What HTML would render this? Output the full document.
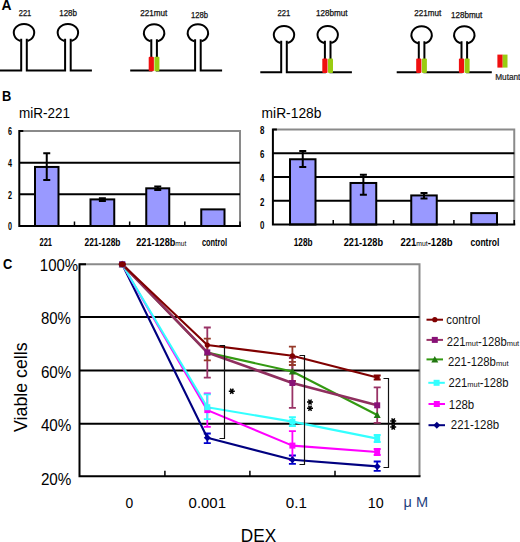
<!DOCTYPE html>
<html><head><meta charset="utf-8"><style>
html,body{margin:0;padding:0;background:#fff;width:520px;height:542px;overflow:hidden}
svg{display:block}
text{font-family:"Liberation Sans",sans-serif}
</style></head><body>
<svg width="520" height="542" viewBox="0 0 520 542">
<text x="1.5" y="10.0" font-size="14.5" font-weight="bold" fill="#000" text-anchor="start" textLength="10" lengthAdjust="spacingAndGlyphs" >A</text>
<path d="M20.50,40.97 A10.2,8.8 0 1 1 27.50,40.97" fill="none" stroke="#000" stroke-width="2.0"/>
<path d="M64.40,40.97 A10.2,8.8 0 1 1 71.40,40.97" fill="none" stroke="#000" stroke-width="2.0"/>
<path d="M0,70.5 L21.20,70.5 L21.20,38.77 M26.80,38.77 L26.80,70.5 L65.10,70.5 L65.10,38.77 M70.70,38.77 L70.70,70.5 L91.9,70.5" fill="none" stroke="#000" stroke-width="2" stroke-linejoin="miter"/>
<text x="18.7" y="15.8" font-size="8.2" font-weight="normal" fill="#111" text-anchor="start" textLength="12.6" lengthAdjust="spacingAndGlyphs" stroke="#111" stroke-width="0.25">221</text>
<text x="59.2" y="15.8" font-size="8.2" font-weight="normal" fill="#111" text-anchor="start" textLength="17.8" lengthAdjust="spacingAndGlyphs" stroke="#111" stroke-width="0.25">128b</text>
<path d="M150.60,41.37 A10.2,8.8 0 1 1 157.60,41.37" fill="none" stroke="#000" stroke-width="2.0"/>
<path d="M194.40,41.37 A10.2,8.8 0 1 1 201.40,41.37" fill="none" stroke="#000" stroke-width="2.0"/>
<path d="M130.2,70.5 L151.30,70.5 L151.30,39.17 M156.90,39.17 L156.90,70.5 L195.10,70.5 L195.10,39.17 M200.70,39.17 L200.70,70.5 L222.1,70.5" fill="none" stroke="#000" stroke-width="2" stroke-linejoin="miter"/>
<rect x="148.70" y="56.70" width="5.2" height="14.6" rx="1" fill="#f01010"/>
<rect x="154.40" y="56.70" width="5.0" height="14.6" rx="1" fill="#99cc11"/>
<text x="140.2" y="15.9" font-size="8.2" font-weight="normal" fill="#111" text-anchor="start" textLength="27.0" lengthAdjust="spacingAndGlyphs" stroke="#111" stroke-width="0.25">221mut</text>
<text x="190.9" y="18.3" font-size="8.2" font-weight="normal" fill="#111" text-anchor="start" textLength="17.0" lengthAdjust="spacingAndGlyphs" stroke="#111" stroke-width="0.25">128b</text>
<path d="M280.50,43.07 A10.2,8.8 0 1 1 287.50,43.07" fill="none" stroke="#000" stroke-width="2.0"/>
<path d="M324.20,43.07 A10.2,8.8 0 1 1 331.20,43.07" fill="none" stroke="#000" stroke-width="2.0"/>
<path d="M260.3,72.3 L281.20,72.3 L281.20,40.87 M286.80,40.87 L286.80,72.3 L324.90,72.3 L324.90,40.87 M330.50,40.87 L330.50,72.3 L351.9,72.3" fill="none" stroke="#000" stroke-width="2" stroke-linejoin="miter"/>
<rect x="322.30" y="58.50" width="5.2" height="14.6" rx="1" fill="#f01010"/>
<rect x="328.00" y="58.50" width="5.0" height="14.6" rx="1" fill="#99cc11"/>
<text x="277.5" y="16.3" font-size="8.2" font-weight="normal" fill="#111" text-anchor="start" textLength="12.8" lengthAdjust="spacingAndGlyphs" stroke="#111" stroke-width="0.25">221</text>
<text x="315.9" y="15.5" font-size="8.2" font-weight="normal" fill="#111" text-anchor="start" textLength="31.5" lengthAdjust="spacingAndGlyphs" stroke="#111" stroke-width="0.25">128bmut</text>
<path d="M418.10,43.37 A10.2,8.8 0 1 1 425.10,43.37" fill="none" stroke="#000" stroke-width="2.0"/>
<path d="M460.80,43.37 A10.2,8.8 0 1 1 467.80,43.37" fill="none" stroke="#000" stroke-width="2.0"/>
<path d="M396.7,72.3 L418.80,72.3 L418.80,41.17 M424.40,41.17 L424.40,72.3 L461.50,72.3 L461.50,41.17 M467.10,41.17 L467.10,72.3 L491.8,72.3" fill="none" stroke="#000" stroke-width="2" stroke-linejoin="miter"/>
<rect x="416.20" y="58.50" width="5.2" height="14.6" rx="1" fill="#f01010"/>
<rect x="421.90" y="58.50" width="5.0" height="14.6" rx="1" fill="#99cc11"/>
<rect x="458.90" y="58.50" width="5.2" height="14.6" rx="1" fill="#f01010"/>
<rect x="464.60" y="58.50" width="5.0" height="14.6" rx="1" fill="#99cc11"/>
<text x="414.2" y="16.1" font-size="8.2" font-weight="normal" fill="#111" text-anchor="start" textLength="27" lengthAdjust="spacingAndGlyphs" stroke="#111" stroke-width="0.25">221mut</text>
<text x="451.0" y="17.7" font-size="8.2" font-weight="normal" fill="#111" text-anchor="start" textLength="31.3" lengthAdjust="spacingAndGlyphs" stroke="#111" stroke-width="0.25">128bmut</text>
<rect x="497.4" y="54.6" width="5.3" height="13" fill="#f01010"/>
<rect x="502.7" y="54.6" width="4.8" height="13" fill="#99cc11"/>
<text x="495.2" y="80.2" font-size="8.2" font-weight="normal" fill="#222" text-anchor="start" textLength="25.2" lengthAdjust="spacingAndGlyphs" stroke="#222" stroke-width="0.2">Mutant</text>
<text x="1.9" y="100.6" font-size="14.5" font-weight="bold" fill="#000" text-anchor="start" textLength="9.3" lengthAdjust="spacingAndGlyphs" >B</text>
<text x="19.0" y="117.8" font-size="13.8" font-weight="normal" fill="#000" text-anchor="start" textLength="51.0" lengthAdjust="spacingAndGlyphs" >miR-221</text>
<text x="261.6" y="117.7" font-size="13.8" font-weight="normal" fill="#000" text-anchor="start" textLength="59.8" lengthAdjust="spacingAndGlyphs" >miR-128b</text>
<path d="M19.3,131 L240,131 L240,226" fill="none" stroke="#8a8a8a" stroke-width="2"/>
<line x1="19.3" y1="194.33" x2="240" y2="194.33" stroke="#000" stroke-width="2"/>
<line x1="19.3" y1="162.67" x2="240" y2="162.67" stroke="#000" stroke-width="2"/>
<rect x="35" y="166.94" width="23.5" height="59.06" fill="#9999ff" stroke="#000" stroke-width="2"/>
<path d="M46.75,153.17 L46.75,180.08 M43.25,153.17 L50.25,153.17 M43.25,180.08 L50.25,180.08" stroke="#000" stroke-width="2" fill="none"/>
<rect x="90.5" y="199.40" width="23.75" height="26.60" fill="#9999ff" stroke="#000" stroke-width="2"/>
<path d="M102.38,198.29 L102.38,200.98 M98.88,198.29 L105.88,198.29 M98.88,200.98 L105.88,200.98" stroke="#000" stroke-width="2" fill="none"/>
<rect x="146.25" y="188.32" width="23.0" height="37.68" fill="#9999ff" stroke="#000" stroke-width="2"/>
<path d="M157.75,186.42 L157.75,189.90 M154.25,186.42 L161.25,186.42 M154.25,189.90 L161.25,189.90" stroke="#000" stroke-width="2" fill="none"/>
<rect x="201.25" y="209.38" width="23.25" height="16.62" fill="#9999ff" stroke="#000" stroke-width="2"/>
<line x1="74.47" y1="221.5" x2="74.47" y2="226" stroke="#000" stroke-width="1.5"/>
<line x1="129.65" y1="221.5" x2="129.65" y2="226" stroke="#000" stroke-width="1.5"/>
<line x1="184.82" y1="221.5" x2="184.82" y2="226" stroke="#000" stroke-width="1.5"/>
<line x1="240.00" y1="221.5" x2="240.00" y2="226" stroke="#000" stroke-width="1.5"/>
<path d="M23.3,131 L19.3,131 L19.3,226 L241,226" fill="none" stroke="#000" stroke-width="2"/>
<path d="M272.9,129.6 L514.25,129.6 L514.25,224.5" fill="none" stroke="#8a8a8a" stroke-width="2"/>
<line x1="272.9" y1="200.78" x2="514.25" y2="200.78" stroke="#000" stroke-width="2"/>
<line x1="272.9" y1="177.05" x2="514.25" y2="177.05" stroke="#000" stroke-width="2"/>
<line x1="272.9" y1="153.32" x2="514.25" y2="153.32" stroke="#000" stroke-width="2"/>
<rect x="290" y="159.26" width="25.5" height="65.24" fill="#9999ff" stroke="#000" stroke-width="2"/>
<path d="M302.75,150.95 L302.75,166.97 M299.25,150.95 L306.25,150.95 M299.25,166.97 L306.25,166.97" stroke="#000" stroke-width="2" fill="none"/>
<rect x="350.5" y="182.98" width="25.75" height="41.52" fill="#9999ff" stroke="#000" stroke-width="2"/>
<path d="M363.38,174.68 L363.38,194.84 M359.88,174.68 L366.88,174.68 M359.88,194.84 L366.88,194.84" stroke="#000" stroke-width="2" fill="none"/>
<rect x="411.25" y="195.44" width="25.5" height="29.06" fill="#9999ff" stroke="#000" stroke-width="2"/>
<path d="M424.00,193.06 L424.00,198.40 M420.50,193.06 L427.50,193.06 M420.50,198.40 L427.50,198.40" stroke="#000" stroke-width="2" fill="none"/>
<rect x="471.25" y="213.11" width="25.75" height="11.39" fill="#9999ff" stroke="#000" stroke-width="2"/>
<line x1="333.24" y1="220.0" x2="333.24" y2="224.5" stroke="#000" stroke-width="1.5"/>
<line x1="393.57" y1="220.0" x2="393.57" y2="224.5" stroke="#000" stroke-width="1.5"/>
<line x1="453.91" y1="220.0" x2="453.91" y2="224.5" stroke="#000" stroke-width="1.5"/>
<line x1="514.25" y1="220.0" x2="514.25" y2="224.5" stroke="#000" stroke-width="1.5"/>
<path d="M276.9,129.6 L272.9,129.6 L272.9,224.5 L515.25,224.5" fill="none" stroke="#000" stroke-width="2"/>
<text x="7.9" y="135.2" font-size="10.5" font-weight="bold" fill="#000" text-anchor="start" textLength="4.0" lengthAdjust="spacingAndGlyphs" >6</text>
<text x="7.9" y="166.5" font-size="10.5" font-weight="bold" fill="#000" text-anchor="start" textLength="4.0" lengthAdjust="spacingAndGlyphs" >4</text>
<text x="7.9" y="199.3" font-size="10.5" font-weight="bold" fill="#000" text-anchor="start" textLength="4.0" lengthAdjust="spacingAndGlyphs" >2</text>
<text x="7.9" y="230.3" font-size="10.5" font-weight="bold" fill="#000" text-anchor="start" textLength="4.0" lengthAdjust="spacingAndGlyphs" >0</text>
<text x="260.0" y="134.0" font-size="10.5" font-weight="bold" fill="#000" text-anchor="start" textLength="4.4" lengthAdjust="spacingAndGlyphs" >8</text>
<text x="260.0" y="158.2" font-size="10.5" font-weight="bold" fill="#000" text-anchor="start" textLength="4.4" lengthAdjust="spacingAndGlyphs" >6</text>
<text x="260.0" y="182.2" font-size="10.5" font-weight="bold" fill="#000" text-anchor="start" textLength="4.4" lengthAdjust="spacingAndGlyphs" >4</text>
<text x="260.0" y="205.7" font-size="10.5" font-weight="bold" fill="#000" text-anchor="start" textLength="4.4" lengthAdjust="spacingAndGlyphs" >2</text>
<text x="260.0" y="229.1" font-size="10.5" font-weight="bold" fill="#000" text-anchor="start" textLength="4.4" lengthAdjust="spacingAndGlyphs" >0</text>
<text x="39.5" y="245.9" font-size="10" font-weight="bold" textLength="12.50" lengthAdjust="spacingAndGlyphs"><tspan>221</tspan></text>
<text x="84.5" y="245.9" font-size="10" font-weight="bold" textLength="36.00" lengthAdjust="spacingAndGlyphs"><tspan>221-128b</tspan></text>
<text x="136.25" y="245.9" font-size="10" font-weight="bold" textLength="50.00" lengthAdjust="spacingAndGlyphs"><tspan>221-128b</tspan><tspan font-size="7.2" font-weight="normal">mut</tspan></text>
<text x="202" y="245.9" font-size="10" font-weight="bold" textLength="25.00" lengthAdjust="spacingAndGlyphs"><tspan>control</tspan></text>
<text x="293.75" y="245.9" font-size="10" font-weight="bold" textLength="18.75" lengthAdjust="spacingAndGlyphs"><tspan>128b</tspan></text>
<text x="343.75" y="245.9" font-size="10" font-weight="bold" textLength="39.25" lengthAdjust="spacingAndGlyphs"><tspan>221-128b</tspan></text>
<text x="400.5" y="245.9" font-size="10" font-weight="bold" textLength="52.00" lengthAdjust="spacingAndGlyphs"><tspan>221</tspan><tspan font-size="7.2" font-weight="normal">mut</tspan><tspan>-128b</tspan></text>
<text x="470.5" y="245.9" font-size="10" font-weight="bold" textLength="28.75" lengthAdjust="spacingAndGlyphs"><tspan>control</tspan></text>
<text x="3.0" y="269.3" font-size="14.5" font-weight="bold" fill="#000" text-anchor="start" textLength="9.3" lengthAdjust="spacingAndGlyphs" >C</text>
<path d="M79.5,264.3 L419.5,264.3 L419.5,476.3" fill="none" stroke="#8a8a8a" stroke-width="2"/>
<line x1="79.5" y1="317.0" x2="419.5" y2="317.0" stroke="#000" stroke-width="2"/>
<line x1="79.5" y1="370.5" x2="419.5" y2="370.5" stroke="#000" stroke-width="2"/>
<line x1="79.5" y1="423.8" x2="419.5" y2="423.8" stroke="#000" stroke-width="2"/>
<line x1="164.9" y1="470.8" x2="164.9" y2="476.3" stroke="#000" stroke-width="1.5"/>
<line x1="249.9" y1="470.8" x2="249.9" y2="476.3" stroke="#000" stroke-width="1.5"/>
<line x1="335.0" y1="470.8" x2="335.0" y2="476.3" stroke="#000" stroke-width="1.5"/>
<path d="M86.0,264.3 L79.5,264.3 L79.5,476.3 L420.5,476.3" fill="none" stroke="#000" stroke-width="2"/>
<text x="39.8" y="271.1" font-size="16.0" font-weight="normal" fill="#000" text-anchor="start" textLength="38.3" lengthAdjust="spacingAndGlyphs" >100%</text>
<text x="41.0" y="324.3" font-size="16.0" font-weight="normal" fill="#000" text-anchor="start" textLength="29.9" lengthAdjust="spacingAndGlyphs" >80%</text>
<text x="40.9" y="378.0" font-size="16.0" font-weight="normal" fill="#000" text-anchor="start" textLength="30.3" lengthAdjust="spacingAndGlyphs" >60%</text>
<text x="40.9" y="431.4" font-size="16.0" font-weight="normal" fill="#000" text-anchor="start" textLength="30.5" lengthAdjust="spacingAndGlyphs" >40%</text>
<text x="40.9" y="484.8" font-size="16.0" font-weight="normal" fill="#000" text-anchor="start" textLength="30.5" lengthAdjust="spacingAndGlyphs" >20%</text>
<text x="125.4" y="508.3" font-size="15.5" font-weight="normal" fill="#000" text-anchor="start" textLength="7.7" lengthAdjust="spacingAndGlyphs" >0</text>
<text x="188.6" y="508.3" font-size="15.5" font-weight="normal" fill="#000" text-anchor="start" textLength="37.4" lengthAdjust="spacingAndGlyphs" >0.001</text>
<text x="285.8" y="508.3" font-size="15.5" font-weight="normal" fill="#000" text-anchor="start" textLength="21.1" lengthAdjust="spacingAndGlyphs" >0.1</text>
<text x="367.7" y="508.3" font-size="15.5" font-weight="normal" fill="#000" text-anchor="start" textLength="15.9" lengthAdjust="spacingAndGlyphs" >10</text>
<text x="403.5" y="506.6" font-size="15" font-weight="normal" fill="#1f3f7f" text-anchor="start" textLength="24.5" lengthAdjust="spacingAndGlyphs" >&#956; M</text>
<text x="240.8" y="541.7" font-size="17.5" font-weight="normal" fill="#000" text-anchor="start" textLength="35.4" lengthAdjust="spacingAndGlyphs" >DEX</text>
<text x="0" y="0" font-size="17.7" transform="translate(26.7,431.9) rotate(-90)" textLength="89.5" lengthAdjust="spacingAndGlyphs">Viable cells</text>
<path d="M207.3,433.5 L207.3,443.1 M203.8,433.5 L210.8,433.5 M203.8,443.1 L210.8,443.1" stroke="#0000cc" stroke-width="1.8" fill="none"/>
<path d="M292.4,455.5 L292.4,463.8 M288.9,455.5 L295.9,455.5 M288.9,463.8 L295.9,463.8" stroke="#0000cc" stroke-width="1.8" fill="none"/>
<path d="M377.2,461.5 L377.2,470.9 M373.7,461.5 L380.7,461.5 M373.7,470.9 L380.7,470.9" stroke="#0000cc" stroke-width="1.8" fill="none"/>
<path d="M207.3,393.5 L207.3,426.9 M203.8,393.5 L210.8,393.5 M203.8,426.9 L210.8,426.9" stroke="#ff00ff" stroke-width="1.8" fill="none"/>
<path d="M292.4,431.2 L292.4,460.0 M288.9,431.2 L295.9,431.2 M288.9,460.0 L295.9,460.0" stroke="#ff00ff" stroke-width="1.8" fill="none"/>
<path d="M377.2,449.0 L377.2,455.0 M373.7,449.0 L380.7,449.0 M373.7,455.0 L380.7,455.0" stroke="#ff00ff" stroke-width="1.8" fill="none"/>
<path d="M207.3,394.3 L207.3,419.1 M203.8,394.3 L210.8,394.3 M203.8,419.1 L210.8,419.1" stroke="#33ffff" stroke-width="1.8" fill="none"/>
<path d="M292.4,417.2 L292.4,426.0 M288.9,417.2 L295.9,417.2 M288.9,426.0 L295.9,426.0" stroke="#33ffff" stroke-width="1.8" fill="none"/>
<path d="M377.2,435.0 L377.2,442.0 M373.7,435.0 L380.7,435.0 M373.7,442.0 L380.7,442.0" stroke="#33ffff" stroke-width="1.8" fill="none"/>
<path d="M292.4,361.8 L292.4,381.0 M288.9,361.8 L295.9,361.8 M288.9,381.0 L295.9,381.0" stroke="#963a2a" stroke-width="1.8" fill="none"/>
<path d="M207.3,327.5 L207.3,377.6 M203.8,327.5 L210.8,327.5 M203.8,377.6 L210.8,377.6" stroke="#993366" stroke-width="1.8" fill="none"/>
<path d="M292.4,358.0 L292.4,407.8 M288.9,358.0 L295.9,358.0 M288.9,407.8 L295.9,407.8" stroke="#993366" stroke-width="1.8" fill="none"/>
<path d="M377.2,387.3 L377.2,422.8 M373.7,387.3 L380.7,387.3 M373.7,422.8 L380.7,422.8" stroke="#993366" stroke-width="1.8" fill="none"/>
<path d="M207.3,338.6 L207.3,360.4 M203.8,338.6 L210.8,338.6 M203.8,360.4 L210.8,360.4" stroke="#963a2a" stroke-width="1.8" fill="none"/>
<path d="M292.4,346.6 L292.4,365.0 M288.9,346.6 L295.9,346.6 M288.9,365.0 L295.9,365.0" stroke="#963a2a" stroke-width="1.8" fill="none"/>
<path d="M377.2,375.5 L377.2,379.5 M373.7,375.5 L380.7,375.5 M373.7,379.5 L380.7,379.5" stroke="#800000" stroke-width="1.8" fill="none"/>
<path d="M122.2,264.3 L207.3,437.7 L292.4,459.8 L377.2,466.4" fill="none" stroke="#000080" stroke-width="2.1" stroke-linejoin="round"/>
<path d="M122.2,264.3 L207.3,410.1 L292.4,445.6 L377.2,452.0" fill="none" stroke="#ff00ff" stroke-width="2.1" stroke-linejoin="round"/>
<path d="M122.2,264.3 L207.3,407.2 L292.4,421.6 L377.2,438.6" fill="none" stroke="#33ffff" stroke-width="2.1" stroke-linejoin="round"/>
<path d="M122.2,264.3 L207.3,352.6 L292.4,371.5 L377.2,415.0" fill="none" stroke="#339911" stroke-width="2.1" stroke-linejoin="round"/>
<path d="M122.2,264.3 L207.3,352.4 L292.4,383.0 L377.2,405.3" fill="none" stroke="#8f2f5f" stroke-width="2.7" stroke-linejoin="round"/>
<path d="M122.2,264.3 L207.3,345.0 L292.4,355.8 L377.2,377.5" fill="none" stroke="#800000" stroke-width="2.1" stroke-linejoin="round"/>
<path d="M122.2,260.8 L125.7,264.3 L122.2,267.8 L118.7,264.3Z" fill="#000099"/>
<path d="M207.3,434.2 L210.8,437.7 L207.3,441.2 L203.8,437.7Z" fill="#000099"/>
<path d="M292.4,456.3 L295.9,459.8 L292.4,463.3 L288.9,459.8Z" fill="#000099"/>
<path d="M377.2,462.9 L380.7,466.4 L377.2,469.9 L373.7,466.4Z" fill="#000099"/>
<rect x="119.2" y="261.3" width="6.0" height="6.0" fill="#ff00ff"/>
<rect x="204.3" y="407.1" width="6.0" height="6.0" fill="#ff00ff"/>
<rect x="289.4" y="442.6" width="6.0" height="6.0" fill="#ff00ff"/>
<rect x="374.2" y="449.0" width="6.0" height="6.0" fill="#ff00ff"/>
<rect x="119.2" y="261.3" width="6.0" height="6.0" fill="#33ffff"/>
<rect x="204.3" y="404.2" width="6.0" height="6.0" fill="#33ffff"/>
<rect x="289.4" y="418.6" width="6.0" height="6.0" fill="#33ffff"/>
<rect x="374.2" y="435.6" width="6.0" height="6.0" fill="#33ffff"/>
<path d="M122.2,260.8 L125.7,267.3 L118.7,267.3Z" fill="#227711"/>
<path d="M207.3,349.1 L210.8,355.6 L203.8,355.6Z" fill="#227711"/>
<path d="M292.4,368.0 L295.9,374.5 L288.9,374.5Z" fill="#227711"/>
<path d="M377.2,411.5 L380.7,418.0 L373.7,418.0Z" fill="#227711"/>
<rect x="119.2" y="261.3" width="6.0" height="6.0" fill="#881177"/>
<rect x="204.3" y="349.4" width="6.0" height="6.0" fill="#881177"/>
<rect x="289.4" y="380.0" width="6.0" height="6.0" fill="#881177"/>
<rect x="374.2" y="402.3" width="6.0" height="6.0" fill="#881177"/>
<circle cx="122.2" cy="264.3" r="2.6" fill="#800000"/>
<circle cx="207.3" cy="345.0" r="2.6" fill="#800000"/>
<circle cx="292.4" cy="355.8" r="2.6" fill="#800000"/>
<circle cx="377.2" cy="377.5" r="2.6" fill="#800000"/>
<ellipse cx="122.3" cy="264.2" rx="3.6" ry="2.6" fill="#800000"/>
<path d="M219.5,345.5 L224.5,345.5 L224.5,438.5 L219.5,438.5" fill="none" stroke="#111" stroke-width="1.2"/>
<path d="M299.5,355.5 L304.5,355.5 L304.5,464.5 L299.5,464.5" fill="none" stroke="#111" stroke-width="1.2"/>
<path d="M383.5,378.5 L388.5,378.5 L388.5,467.5 L383.5,467.5" fill="none" stroke="#111" stroke-width="1.2"/>
<path d="M228.80,391.30 L234.80,391.30 M230.30,388.70 L233.30,393.90 M233.30,388.70 L230.30,393.90 " stroke="#000" stroke-width="1.5" fill="none"/>
<circle cx="231.8" cy="391.3" r="1.2" fill="#000"/>
<path d="M307.00,402.10 L313.00,402.10 M308.50,399.50 L311.50,404.70 M311.50,399.50 L308.50,404.70 " stroke="#000" stroke-width="1.5" fill="none"/>
<circle cx="310.0" cy="402.1" r="1.2" fill="#000"/>
<path d="M307.00,408.30 L313.00,408.30 M308.50,405.70 L311.50,410.90 M311.50,405.70 L308.50,410.90 " stroke="#000" stroke-width="1.5" fill="none"/>
<circle cx="310.0" cy="408.3" r="1.2" fill="#000"/>
<path d="M390.20,421.00 L396.20,421.00 M391.70,418.40 L394.70,423.60 M394.70,418.40 L391.70,423.60 " stroke="#000" stroke-width="1.5" fill="none"/>
<circle cx="393.2" cy="421.0" r="1.2" fill="#000"/>
<path d="M390.20,427.00 L396.20,427.00 M391.70,424.40 L394.70,429.60 M394.70,424.40 L391.70,429.60 " stroke="#000" stroke-width="1.5" fill="none"/>
<circle cx="393.2" cy="427.0" r="1.2" fill="#000"/>
<line x1="426.5" y1="319.7" x2="443.0" y2="319.7" stroke="#800000" stroke-width="2.0"/>
<circle cx="434.8" cy="319.7" r="2.6" fill="#800000"/>
<text x="446.3" y="323.8" font-size="12" fill="#111" textLength="34.10" lengthAdjust="spacingAndGlyphs"><tspan>control</tspan></text>
<line x1="426.5" y1="339.9" x2="443.0" y2="339.9" stroke="#993366" stroke-width="2.0"/>
<rect x="431.8" y="336.9" width="6.0" height="6.0" fill="#881177"/>
<text x="446.8" y="345.9" font-size="12" fill="#111" textLength="72.40" lengthAdjust="spacingAndGlyphs"><tspan>221</tspan><tspan font-size="8">mut</tspan><tspan>-128b</tspan><tspan font-size="8">mut</tspan></text>
<line x1="426.5" y1="359.4" x2="443.0" y2="359.4" stroke="#339911" stroke-width="2.0"/>
<path d="M434.8,355.9 L438.3,362.4 L431.3,362.4Z" fill="#227711"/>
<text x="448.0" y="365.8" font-size="12" fill="#111" textLength="60.50" lengthAdjust="spacingAndGlyphs"><tspan>221-128b</tspan><tspan font-size="8">mut</tspan></text>
<line x1="428.3" y1="382.8" x2="444.8" y2="382.8" stroke="#33ffff" stroke-width="2.0"/>
<rect x="433.6" y="379.8" width="6.0" height="6.0" fill="#33ffff"/>
<text x="448.5" y="386.5" font-size="12" fill="#111" textLength="60.00" lengthAdjust="spacingAndGlyphs"><tspan>221</tspan><tspan font-size="8">mut</tspan><tspan>-128b</tspan></text>
<line x1="428.5" y1="404.0" x2="445.0" y2="404.0" stroke="#ff00ff" stroke-width="2.0"/>
<rect x="433.8" y="401.0" width="6.0" height="6.0" fill="#ff00ff"/>
<text x="448.8" y="408.7" font-size="12" fill="#111" textLength="25.40" lengthAdjust="spacingAndGlyphs"><tspan>128b</tspan></text>
<line x1="428.5" y1="425.2" x2="445.0" y2="425.2" stroke="#000080" stroke-width="2.0"/>
<path d="M436.8,421.7 L440.3,425.2 L436.8,428.7 L433.3,425.2Z" fill="#000080"/>
<text x="450.8" y="429.4" font-size="12" fill="#111" textLength="48.40" lengthAdjust="spacingAndGlyphs"><tspan>221-128b</tspan></text>
</svg>
</body></html>
